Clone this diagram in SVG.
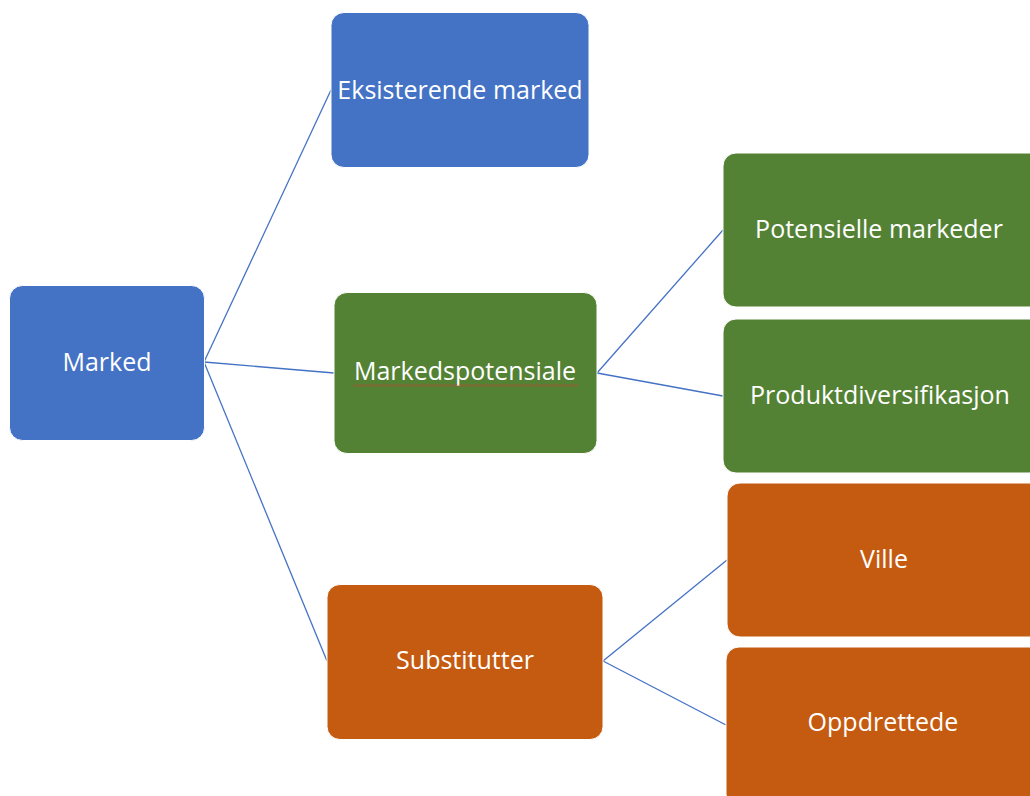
<svg xmlns="http://www.w3.org/2000/svg" width="1030" height="796" viewBox="0 0 1030 796">
<style>
.blue{fill:#4472C4;}
.green{fill:#548235;}
.orange{fill:#C55A11;}
.box{stroke:#ffffff;stroke-width:1;}
.lbl{font-family:"Open Sans","Noto Sans",sans-serif;font-size:25px;fill:#ffffff;text-anchor:middle;}
.conn{stroke:#4472C4;stroke-width:1.3;fill:none;}
</style>
<defs>
<pattern id="squig" x="0" y="0" width="4" height="2.5" patternUnits="userSpaceOnUse">
<path d="M0 2 L2 0.5 L4 2" fill="none" stroke="#E0312B" stroke-width="0.8"/>
</pattern>
</defs>
<rect width="1030" height="796" fill="#ffffff"/>
<g id="connectors">
<line class="conn" x1="204" y1="362" x2="331" y2="90"/>
<line class="conn" x1="204" y1="362" x2="334" y2="373"/>
<line class="conn" x1="204" y1="362" x2="327" y2="661"/>
<line class="conn" x1="597" y1="373" x2="723" y2="230"/>
<line class="conn" x1="597" y1="373" x2="723" y2="396"/>
<line class="conn" x1="603" y1="661" x2="727" y2="560"/>
<line class="conn" x1="603" y1="661" x2="726" y2="725"/>
</g>
<g id="marked">
<rect class="box blue" x="9.5" y="285.5" width="195" height="155" rx="13"/>
<text class="lbl" x="107" y="371">Marked</text>
</g>
<g id="eksisterende">
<rect class="box blue" x="331" y="12.5" width="258" height="155" rx="13"/>
<text class="lbl" x="460" y="99">Eksisterende marked</text>
</g>
<g id="markedspotensiale">
<rect class="box green" x="334" y="292.5" width="263" height="161" rx="13"/>
<text class="lbl" x="465" y="380">Markedspotensiale</text>
<rect x="353" y="384" width="225" height="2.5" fill="url(#squig)"/>
</g>
<g id="potensielle">
<rect class="box green" x="723" y="153" width="320" height="154" rx="13"/>
<text class="lbl" x="879" y="238">Potensielle markeder</text>
</g>
<g id="produktdiversifikasjon">
<rect class="box green" x="723" y="319" width="320" height="154" rx="13"/>
<text class="lbl" x="880" y="404">Produktdiversifikasjon</text>
</g>
<g id="substitutter">
<rect class="box orange" x="327" y="584.5" width="276" height="155" rx="13"/>
<text class="lbl" x="465" y="669">Substitutter</text>
</g>
<g id="ville">
<rect class="box orange" x="727" y="483" width="316" height="154" rx="13"/>
<text class="lbl" x="884" y="568">Ville</text>
</g>
<g id="oppdrettede">
<rect class="box orange" x="726" y="647" width="317" height="160" rx="13"/>
<text class="lbl" x="883" y="731">Oppdrettede</text>
</g>
</svg>
